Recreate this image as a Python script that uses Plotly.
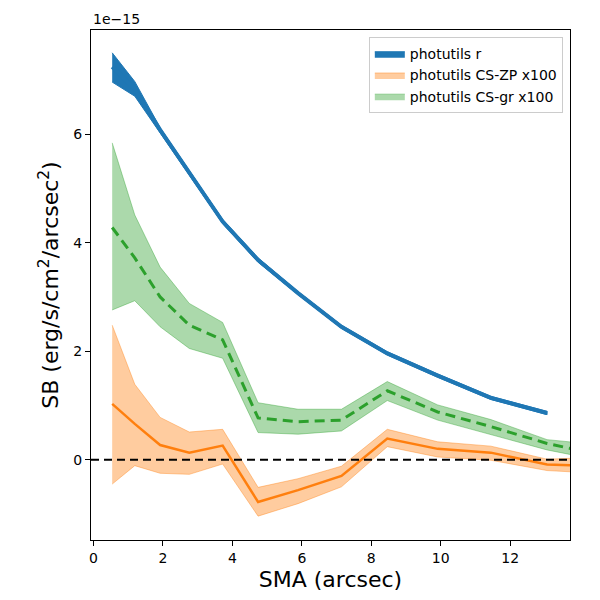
import plotly.graph_objects as go

# SMA in arcsec; surface brightness in units of 1e-15 erg/s/cm^2/arcsec^2
sma = [0.54, 1.19, 1.92, 2.76, 3.72, 4.74, 5.89, 7.14, 8.46, 9.91, 11.44, 13.06, 14.8]

# photutils r (ends at 13.06)
r_mid = [7.24, 6.83, 6.08, 5.29, 4.39, 3.68, 3.07, 2.45, 1.96, 1.55, 1.14, 0.86]
r_hi = [7.50, 6.97, 6.12, 5.33, 4.43, 3.72, 3.10, 2.48, 1.99, 1.58, 1.17, 0.89]
r_lo = [6.96, 6.70, 6.04, 5.25, 4.35, 3.64, 3.04, 2.42, 1.93, 1.52, 1.11, 0.83]

# photutils CS-ZP x100
zp_mid = [1.03, 0.66, 0.27, 0.13, 0.26, -0.78, -0.56, -0.30, 0.39, 0.20, 0.13, -0.09, -0.12]
zp_hi = [2.48, 1.39, 0.78, 0.51, 0.56, -0.51, -0.35, -0.12, 0.56, 0.33, 0.25, 0.01, 0.05]
zp_lo = [-0.45, -0.11, -0.25, -0.27, -0.08, -1.04, -0.81, -0.50, 0.24, 0.05, -0.01, -0.20, -0.26]

# photutils CS-gr x100
gr_mid = [4.28, 3.72, 3.00, 2.48, 2.21, 0.77, 0.70, 0.73, 1.27, 0.88, 0.61, 0.30, 0.06]
gr_hi = [5.84, 4.51, 3.55, 2.88, 2.53, 1.05, 0.93, 0.93, 1.44, 1.01, 0.74, 0.37, 0.26]
gr_lo = [2.76, 2.93, 2.45, 2.05, 1.87, 0.50, 0.47, 0.53, 1.09, 0.73, 0.47, 0.18, -0.04]

BLUE = "#1f77b4"
ORANGE = "#ff7f0e"
GREEN = "#2ca02c"


def band(x, lo, hi, fill, edge, name):
    return go.Scatter(
        x=list(x) + list(x[::-1]),
        y=list(hi) + list(lo[::-1]),
        fill="toself", fillcolor=fill,
        line=dict(color=edge, width=1),
        mode="lines", name=name, hoverinfo="skip",
    )


fig = go.Figure()

fig.add_trace(band(sma[:len(r_mid)], r_lo, r_hi, BLUE, BLUE, "photutils r"))
fig.add_trace(band(sma, zp_lo, zp_hi, "rgba(255,127,14,0.4)",
                   "rgba(255,127,14,0.4)", "photutils CS-ZP x100"))
fig.add_trace(band(sma, gr_lo, gr_hi, "rgba(44,160,44,0.4)",
                   "rgba(44,160,44,0.4)", "photutils CS-gr x100"))

# centre lines
fig.add_trace(go.Scatter(x=sma[:len(r_mid)], y=r_mid, mode="lines",
                         line=dict(color=BLUE, width=4), showlegend=False))
fig.add_trace(go.Scatter(x=sma, y=zp_mid, mode="lines",
                         line=dict(color=ORANGE, width=2.5), showlegend=False))
fig.add_trace(go.Scatter(x=sma, y=gr_mid, mode="lines",
                         line=dict(color=GREEN, width=3, dash="10px,6px"),
                         showlegend=False))

# zero line
fig.add_shape(type="line", xref="paper", x0=0, x1=1, y0=0, y1=0,
              line=dict(color="black", width=2, dash="8px,5px"))

axis_style = dict(
    showline=True, linecolor="black", linewidth=1, mirror=True,
    ticks="outside", ticklen=5, tickcolor="black",
    showgrid=False, zeroline=False,
    tickfont=dict(family="DejaVu Sans", size=14, color="black"),
)

fig.update_xaxes(range=[-0.07, 13.72], tickvals=[0, 2, 4, 6, 8, 10, 12],
                 title=dict(text="SMA (arcsec)", font=dict(family="DejaVu Sans", size=22, color="black"),
                            standoff=6),
                 **axis_style)
fig.update_yaxes(range=[-1.48, 7.92], tickvals=[0, 2, 4, 6],
                 title=dict(text="SB (erg/s/cm<sup>2</sup>/arcsec<sup>2</sup>)",
                            font=dict(family="DejaVu Sans", size=22, color="black"),
                            standoff=8),
                 **axis_style)

fig.add_annotation(text="1e\u221215", xref="paper", yref="paper", x=0, y=1,
                   xanchor="left", yanchor="bottom", showarrow=False, yshift=1,
                   font=dict(family="DejaVu Sans", size=14, color="black"))

# page body has an 8px margin, so the figure is 592 px and margins are shifted
fig.update_layout(
    width=592, height=592,
    margin=dict(l=83, r=30, t=22, b=60),
    plot_bgcolor="white", paper_bgcolor="white",
    legend=dict(x=0.985, y=0.986, xanchor="right", yanchor="top",
                bordercolor="#cccccc", borderwidth=1, bgcolor="rgba(255,255,255,0.8)",
                font=dict(family="DejaVu Sans", size=14, color="black"),
                tracegroupgap=0),
    showlegend=True,
)

fig.write_html("out.html")
